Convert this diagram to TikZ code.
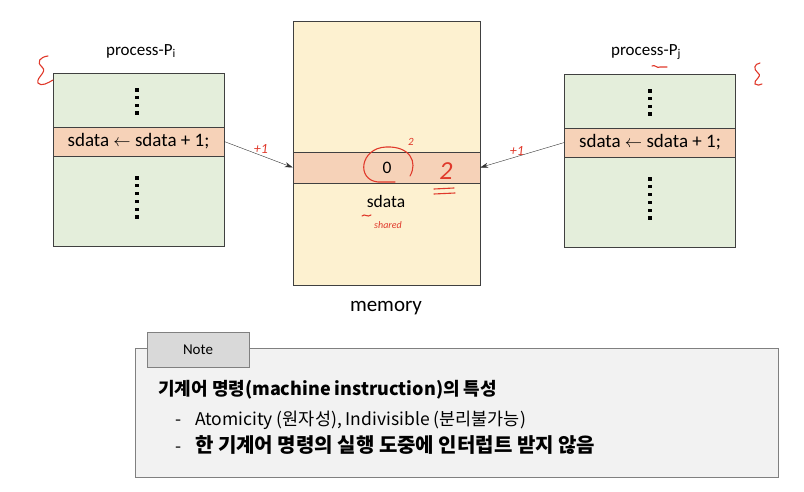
\documentclass[tikz,border=0pt]{standalone}
\usepackage{fontspec}
\setmainfont{Carlito}
\newfontfamily\kofont{Noto Sans CJK KR}
\usetikzlibrary{positioning,arrows.meta}
\definecolor{procgreen}{HTML}{E4EEDB}
\definecolor{bandorange}{HTML}{F6D2B8}
\definecolor{memyellow}{HTML}{FDF1D0}
\definecolor{notegray}{HTML}{F2F2F2}
\definecolor{tabgray}{HTML}{D9D9D9}
\definecolor{pen}{HTML}{E0392B}
\tikzset{proc/.style={draw=black!75, fill=procgreen, minimum width=171pt,
         minimum height=173pt, inner sep=0pt},
         band/.style={draw=black!75, fill=bandorange, inner sep=0pt,
         minimum width=#1, minimum height=29pt, font=\fontsize{19}{22}\selectfont},
         band/.default={171pt},
         lbl/.style={inner sep=0pt, font=\fontsize{17.5}{20}\selectfont},
         ptr/.style={draw=black!80, thin, -{Stealth[length=8pt,width=5pt]}},
         pen/.style={draw=pen, line width=1.1pt, line cap=round},
         scrawl/.style={text=pen, inner sep=0pt, font=\fontsize{#1}{#1}\itshape},
         scrawl/.default={14}}

\begin{document}
\begin{tikzpicture}[x=1pt,y=-1pt]
    \useasboundingbox (0,0) rectangle (804,492);

    % two processes
    \node[proc] (proci) at (138.5,159.5) {};
    \node[band] (bandi) at (138.5,141.5) {sdata $\leftarrow$ sdata + 1;};
    \node[lbl, font=\fontsize{17}{20}\selectfont] (titlei) at (141,51) {process-P\textsubscript{i}};

    \node[proc] (procj) at (650,160.5) {};
    \node[band] (bandj) at (650,142.5) {sdata $\leftarrow$ sdata + 1;};
    \node[lbl, font=\fontsize{17}{20}\selectfont] (titlej) at (646,52) {process-P\textsubscript{j}};

    \foreach \bx/\by in {137/90, 650/91} {
      \foreach \k in {0,...,3}
        \fill (\bx-1.6,\by+7.7*\k-1.6) rectangle ++(3.2,3.2);
      \foreach \k in {0,...,5}
        \fill (\bx-1.6,\by+88+7.8*\k-1.6) rectangle ++(3.2,3.2);
    }

    % shared memory
    \node[draw=black!75, fill=memyellow, minimum width=187pt, minimum height=264pt,
          inner sep=0pt] (mem) at (386.5,153) {};
    \node[band=187pt, minimum height=31pt] (memband) at (386.5,167.5) {};
    \node[lbl] (zero) at (387,168) {0};
    \node[lbl] (sdata) at (386,201) {sdata};
    \node[lbl, font=\fontsize{21}{24}\selectfont] (memlbl) at (386,308) {memory};

    \draw[ptr] (bandi.east) -- (memband.west);
    \draw[ptr] (bandj.west) -- (memband.east);

    % note
    \node[draw=black!50, fill=notegray, minimum width=643pt, minimum height=129pt,
          inner sep=0pt] (note) at (456.5,412.5) {};
    \node[draw=black!50, fill=tabgray, minimum width=102pt, minimum height=35pt,
          inner sep=0pt, font=\fontsize{15}{17}\selectfont] (tab) at (198,349.5) {Note};
    \node[anchor=base west, inner sep=0pt, font=\kofont\bfseries\fontsize{18}{21}\selectfont]
         (head) at (158,395) {기계어 명령(machine instruction)의 특성};
    \node[anchor=base west, inner sep=0pt, font=\kofont\fontsize{17.5}{21}\selectfont]
         (dasha) at (175,425) {-};
    \node[anchor=base west, inner sep=0pt, font=\kofont\fontsize{17.5}{21}\selectfont]
         (itema) at (195,425) {Atomicity (원자성), Indivisible (분리불가능)};
    \node[anchor=base west, inner sep=0pt, font=\kofont\fontsize{17.5}{21}\selectfont]
         (dashb) at (175,452) {-};
    \node[anchor=base west, inner sep=0pt, font=\kofont\bfseries\fontsize{20}{23}\selectfont]
         (itemb) at (195,452) {한 기계어 명령의 실행 도중에 인터럽트 받지 않음};

    % pen marks
    \draw[pen] (48,56) .. controls (40,57) and (36,62) .. (42,67)
               .. controls (48,72) and (36,77) .. (38,83)
               .. controls (41,87) and (48,83) .. (53,80);
    \draw[pen] (760,63) .. controls (754,64) and (753,69) .. (758,73)
               .. controls (763,77) and (753,80) .. (755,84)
               .. controls (757,86) and (760,85) .. (762,84);
    \draw[pen] (652,66) .. controls (655,64) and (657,69) .. (660,67)
               .. controls (662,66) and (664,68) .. (667,67);
    \node[scrawl] (plusi) at (261,149) {+1};
    \node[scrawl] (plusj) at (517,151) {+1};
    \draw[pen] (410,176) .. controls (418,162) and (410,146) .. (386,147)
               .. controls (360,148) and (356,180) .. (378,182) -- (395,182);
    \node[scrawl=11] (sq) at (411,142) {2};
    \node[scrawl=26] (two) at (446,171) {2};
    \draw[pen] (434,189) -- (454,188);
    \draw[pen] (434,194) -- (455,193);
    \node[scrawl=10] (shared) at (388,225) {shared};
    \draw[pen] (362,216) .. controls (365,213) and (367,218) .. (371,215);
\end{tikzpicture}
\end{document}
